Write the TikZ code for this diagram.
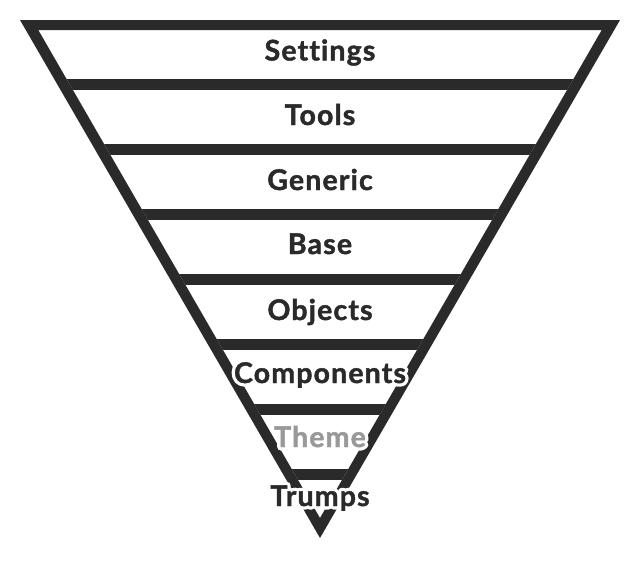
\documentclass[tikz,border=0pt]{standalone}
\usepackage{fontspec}
\setmainfont{Lato}[Ligatures={NoCommon}, LetterSpace=4, BoldFeatures={FakeBold=1.5}]
\newfontfamily\halofont{Lato}[Ligatures={NoCommon}, LetterSpace=4]
\usepackage{tikz}
\definecolor{ink}{RGB}{42,42,42}
\definecolor{faded}{RGB}{153,153,153}
% white halo round the letters: stroke only, then restore
\newcommand\halotext[1]{\special{pdf:literal direct 1 Tr 7 w 1 j 1 1 1 RG}#1\special{pdf:literal direct 0 Tr}}
\tikzset{
  layer/.style={font=\fontsize{28.5}{30}\selectfont\bfseries, text=ink, anchor=base, inner sep=0pt},
  halo/.style={layer, font=\fontsize{28.5}{30}\selectfont\halofont\bfseries, text=white},
}

\begin{document}
\begin{tikzpicture}[x=1pt, y=-1pt]
\useasboundingbox (0,0) rectangle (640,560);
% funnel outline
\fill[ink, even odd rule] (20,20) -- (620,20) -- (320,538) -- cycle
  (38.3,30) -- (601.7,30) -- (320,518) -- cycle;
% separators
\begin{scope}
\clip (38.3,30) -- (601.7,30) -- (320,518) -- cycle;
\foreach \y in {79,144,209,274,339,404,469}
  \fill[ink] (0,\y) rectangle (640,\y+11);
\end{scope}
% layer names
\foreach \i/\txt/\y in {1/Settings/60.5, 2/Tools/125, 3/Generic/190, 4/Base/254,
  5/Objects/320, 6/Components/383, 7/Theme/447, 8/Trumps/506}
  \node[halo] (h\i) at (320,\y) {\halotext{\txt}};
\foreach \i/\txt/\y in {1/Settings/60.5, 2/Tools/125, 3/Generic/190, 4/Base/254,
  5/Objects/320, 6/Components/383, 8/Trumps/506}
  \node[layer] (l\i) at (320,\y) {\txt};
\node[layer, text=faded] (l7) at (320,447) {Theme};
\end{tikzpicture}
\end{document}
